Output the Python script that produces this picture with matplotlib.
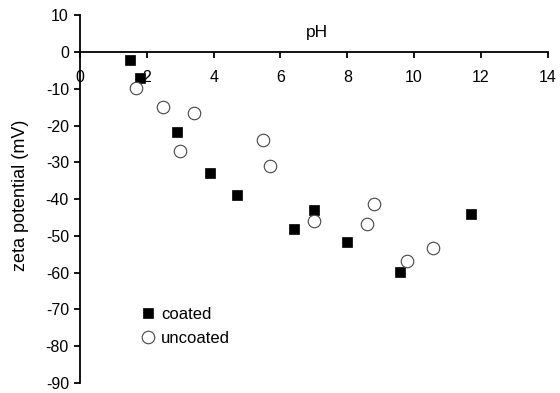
import matplotlib
matplotlib.use("Agg")
import matplotlib.pyplot as plt

# --- Data ---
ph_coated = [1.50, 1.80, 2.90, 3.89, 4.70, 6.41, 6.99, 7.99, 9.59, 11.69]
zeta_coated = [-2.2, -7.1, -21.7, -32.9, -38.9, -48.1, -42.9, -51.7, -59.9, -44.1]

ph_uncoated = [1.68, 2.47, 2.99, 3.40, 5.49, 5.70, 6.99, 8.60, 8.79, 9.78, 10.58]
zeta_uncoated = [-9.9, -14.9, -26.8, -16.7, -23.9, -30.9, -45.9, -46.8, -41.3, -56.8, -53.4]

x_ticks = [0, 2, 4, 6, 8, 10, 12, 14]
y_ticks = [10, 0, -10, -20, -30, -40, -50, -60, -70, -80, -90]

plt.rcParams["font.family"] = ["Liberation Sans", "DejaVu Sans"]
plt.rcParams["axes.unicode_minus"] = False

W, H = 560, 393
fig = plt.figure(figsize=(W / 100, H / 100), dpi=100)
left, right, top, bottom = 80, 547.7, 15.2, 383
ax = fig.add_axes([left / W, 1 - bottom / H, (right - left) / W, (bottom - top) / H])

ax.plot(ph_coated, zeta_coated, ls="none", marker="s", ms=7.2,
        mfc="black", mec="black", mew=0.5, label="coated", clip_on=False)
ax.plot(ph_uncoated, zeta_uncoated, ls="none", marker="o", ms=9,
        mfc="white", mec="#444444", mew=0.8, label="uncoated", clip_on=False)

ax.set_xlim(0, 14)
ax.set_ylim(-90, 10)
ax.set_xticks(x_ticks)
ax.set_yticks(y_ticks)

for side in ("top", "right"):
    ax.spines[side].set_visible(False)
ax.spines["bottom"].set_position(("data", 0))
ax.spines["left"].set_linewidth(1.3)
ax.spines["bottom"].set_linewidth(1.3)
ax.tick_params(axis="x", direction="out", length=4, width=1.3, pad=9, labelsize=11.5)
ax.tick_params(axis="y", direction="out", length=4, width=1.3, pad=4, labelsize=11.5)

ax.text(7.1, 5.2, "pH", ha="center", va="center", fontsize=12.5)
ax.set_ylabel("zeta potential (mV)", fontsize=13)
ax.yaxis.set_label_coords(-0.11, 0.51)

ax.legend(loc="upper left", bbox_to_anchor=(0.115, 0.225), frameon=False,
          handlelength=0.9, handletextpad=0.35, labelspacing=0.55,
          fontsize=12, borderaxespad=0)

fig.savefig("out.png", dpi=100)
